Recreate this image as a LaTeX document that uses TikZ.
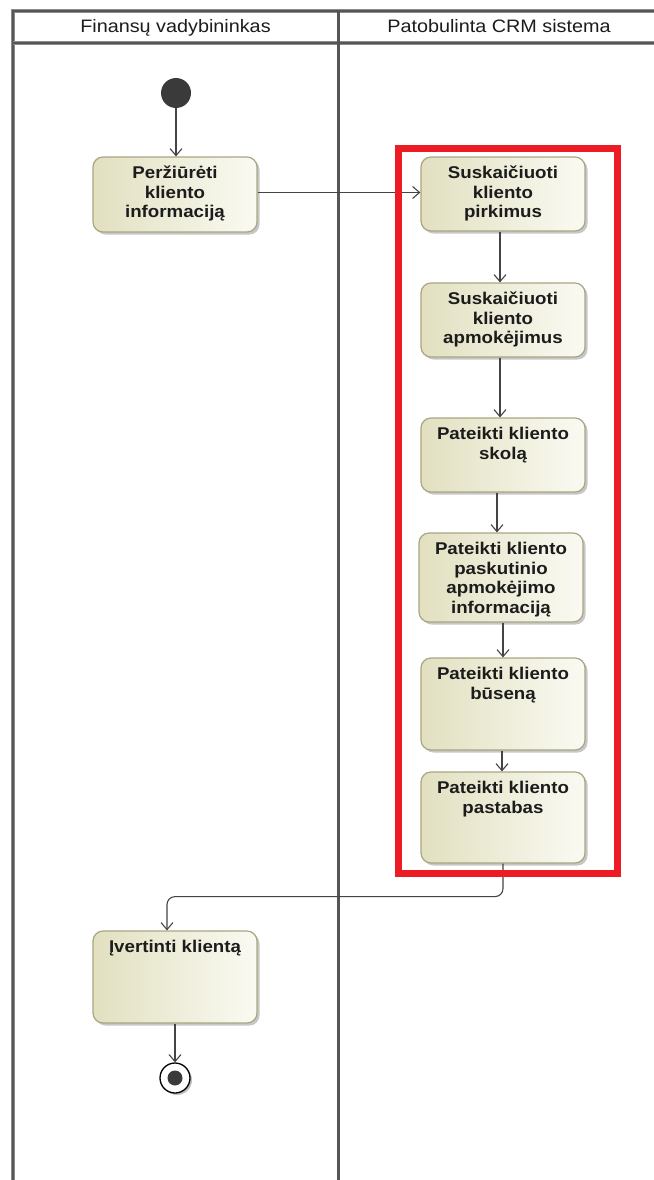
\documentclass[tikz,border=0pt]{standalone}
\usepackage{fontspec}
\setmainfont{Liberation Sans}[FakeStretch=1.1]
\usetikzlibrary{arrows.meta,shadows,calc}

\definecolor{laneink}{HTML}{555555}
\definecolor{lanehalo}{HTML}{8C8C8C}
\definecolor{boxedge}{HTML}{A9A682}
\definecolor{boxdark}{HTML}{E2E0C0}
\definecolor{boxlight}{HTML}{FAFAF3}
\definecolor{flowink}{HTML}{444444}
\definecolor{dotink}{HTML}{3A3A3A}
\definecolor{textink}{HTML}{1C1C1C}
\definecolor{markred}{HTML}{ED1C24}

% action text: top-aligned, centred lines inside a box of given height
\newcommand\acttext[2]{\parbox[c][#1][t]{164pt}{\centering\vspace*{7.9pt}\strut #2}}

\begin{document}
\begin{tikzpicture}[x=1pt,y=-1pt,
  lane/.style={draw=laneink, line width=2.2pt,
    preaction={draw=lanehalo, line width=3.6pt}},
  lanehead/.style={text=textink, anchor=base, inner sep=0pt,
    font=\fontsize{18}{20}\selectfont},
  action/.style={draw=boxedge, line width=1.2pt, rounded corners=10pt,
    left color=boxdark, right color=boxlight, inner sep=0pt,
    minimum width=164pt, text=textink,
    font=\fontsize{17}{19.5}\selectfont\bfseries,
    drop shadow={shadow xshift=2.5pt, shadow yshift=-2.5pt,
      fill=black, opacity=0.22}},
  flow/.style={draw=flowink, line width=1.1pt,
    -{Straight Barb[length=7pt,width=12pt,line width=1.1pt]}},
  initial/.style={circle, fill=dotink, minimum size=30pt, inner sep=0pt},
  final/.style={circle, draw=black, line width=1.3pt, fill=white,
    minimum size=30pt, inner sep=0pt,
    drop shadow={shadow xshift=2pt, shadow yshift=-2pt, fill=black, opacity=0.25},
    path picture={\fill[dotink] (path picture bounding box.center) circle (7.5pt);}}
]
\fill[white, use as bounding box] (0,0) rectangle (653,1180);

% swimlane frame
\draw[lane] (13,1182) -- (13,11) -- (655,11);
\draw[lane] (13,43) -- (655,43);
\draw[lane] (338.5,11) -- (338.5,1182);
\node[lanehead] (laneA) at (175.5,33) {Finansų vadybininkas};
\node[lanehead] (laneB) at (499,33) {Patobulinta CRM sistema};

% nodes
\node[initial] (start) at (176,93) {};
\node[action] (p1) at (175,194.5) {\acttext{75pt}{Peržiūrėti\\kliento\\informaciją}};
\node[action] (s1) at (503,194) {\acttext{74pt}{Suskaičiuoti\\kliento\\pirkimus}};
\node[action] (s2) at (503,320) {\acttext{74pt}{Suskaičiuoti\\kliento\\apmokėjimus}};
\node[action] (s3) at (503,455) {\acttext{74pt}{Pateikti kliento\\skolą}};
\node[action] (s4) at (501,577.5) {\acttext{89pt}{Pateikti kliento\\paskutinio\\apmokėjimo\\informaciją}};
\node[action] (s5) at (503,704) {\acttext{92pt}{Pateikti kliento\\būseną}};
\node[action] (s6) at (503,817.5) {\acttext{91pt}{Pateikti kliento\\pastabas}};
\node[action] (iv) at (175,977) {\acttext{92pt}{Įvertinti klientą}};
\node[final] (end) at (175,1078) {};

% control flows
\draw[flow] (start.south) -- (start.south |- p1.north);
\draw[flow] ([yshift=2pt]p1.east) -- ([yshift=2pt]p1.east -| s1.west);
\draw[flow] ([xshift=-3pt]s1.south) -- ([xshift=-3pt]s1.south |- s2.north);
\draw[flow] ([xshift=-3pt]s2.south) -- ([xshift=-3pt]s2.south |- s3.north);
\draw[flow] ([xshift=-6pt]s3.south) -- ([xshift=-6pt]s3.south |- s4.north);
\draw[flow] (s5.north |- s4.south) -- (s5.north);
\draw[flow] ([xshift=-1pt]s5.south) -- ([xshift=-1pt]s5.south |- s6.north);
\draw[flow, rounded corners=8pt] (s6.south) -- ++(0,33) -| ([xshift=-8pt]iv.north);
\draw[flow] (iv.south) -- (end.north);

% highlighted group of system actions
\draw[markred, line width=7pt] (398,148.5) rectangle (617,873);
\end{tikzpicture}
\end{document}
